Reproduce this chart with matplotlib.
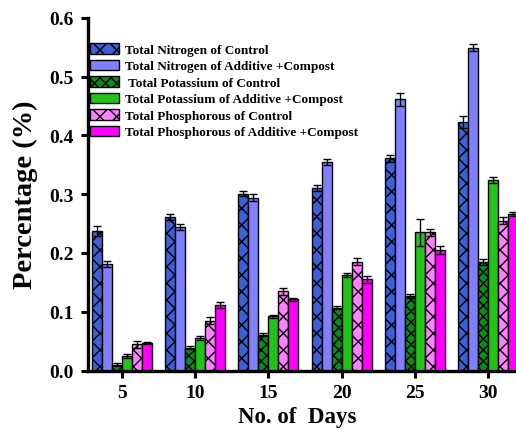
import numpy as np
import matplotlib
matplotlib.use("Agg")
import matplotlib.pyplot as plt

# ----- data -----
days = ["5", "10", "15", "20", "25", "30"]

series_labels = [
    "Total Nitrogen of Control",
    "Total Nitrogen of Additive +Compost",
    " Total Potassium of Control",
    "Total Potassium of Additive +Compost",
    "Total Phosphorous of Control",
    "Total Phosphorous of Additive +Compost",
]

n_control = [0.237, 0.261, 0.301, 0.311, 0.361, 0.423]
n_additive = [0.181, 0.244, 0.294, 0.354, 0.461, 0.549]
k_control = [0.010, 0.039, 0.061, 0.107, 0.127, 0.185]
k_additive = [0.025, 0.055, 0.092, 0.162, 0.235, 0.324]
p_control = [0.045, 0.085, 0.135, 0.185, 0.235, 0.255]
p_additive = [0.047, 0.111, 0.121, 0.155, 0.205, 0.266]

n_control_err = [0.009, 0.005, 0.005, 0.005, 0.006, 0.010]
n_additive_err = [0.005, 0.005, 0.006, 0.005, 0.011, 0.006]
k_control_err = [0.003, 0.002, 0.002, 0.002, 0.003, 0.005]
k_additive_err = [0.003, 0.003, 0.003, 0.003, 0.023, 0.005]
p_control_err = [0.006, 0.006, 0.006, 0.006, 0.006, 0.006]
p_additive_err = [0.002, 0.005, 0.003, 0.006, 0.006, 0.003]

values = [n_control, n_additive, k_control, k_additive, p_control, p_additive]
errors = [n_control_err, n_additive_err, k_control_err, k_additive_err,
          p_control_err, p_additive_err]

colors = ["#3F5FD6", "#8080FF", "#0E8A1E", "#22C41A", "#FF80FF", "#FF00FF"]
hatches = ["xx", None, "xxx", None, "xx", None]

plt.rcParams["font.family"] = ["Liberation Serif", "DejaVu Serif"]
plt.rcParams["font.weight"] = "bold"
plt.rcParams["hatch.linewidth"] = 1.0

fig = plt.figure(figsize=(5.16, 4.31), dpi=100)
ax = fig.add_axes([0.1705, 0.138, 0.8295, 0.8186])

x = np.arange(len(days))
width = 0.1364

for i, (vals, errs) in enumerate(zip(values, errors)):
    pos = x + (i - 2.5) * width
    ax.bar(pos, vals, width, yerr=errs, color=colors[i], edgecolor="black",
           linewidth=1.0, hatch=hatches[i], label=series_labels[i],
           error_kw=dict(ecolor="black", elinewidth=1.0, capsize=3, capthick=1.0))

ax.set_xlim(-0.46, 5.38)
ax.set_ylim(0, 0.6)
ax.set_xticks(x)
ax.set_xticklabels(days)
ticks_y = np.arange(0, 0.61, 0.1)
ax.set_yticks(ticks_y)
ax.set_yticklabels([f"{v:.1f}" for v in ticks_y])

for side in ["top", "right"]:
    ax.spines[side].set_visible(False)
for side in ["left", "bottom"]:
    ax.spines[side].set_linewidth(2.4)

ax.tick_params(axis="both", direction="out", length=5, width=2.2, labelsize=14, pad=5)
for lab in ax.get_xticklabels() + ax.get_yticklabels():
    lab.set_fontweight("bold")

ax.set_ylabel("Percentage (%)", fontsize=20.5, fontweight="bold")
ax.yaxis.set_label_coords(-0.117, 0.5)
ax.set_xlabel("No. of  Days", fontsize=16.5, fontweight="bold")
ax.xaxis.set_label_coords(0.489, -0.1)

ax.legend(loc="upper left", bbox_to_anchor=(90 / 516, 1 - 44 / 431),
          bbox_transform=fig.transFigure, frameon=False,
          prop=dict(size=9.5, weight="bold"), handlelength=2.2,
          handleheight=0.85, labelspacing=0.28, handletextpad=0.44,
          borderaxespad=0, borderpad=0)

fig.savefig("out.png", dpi=100)
